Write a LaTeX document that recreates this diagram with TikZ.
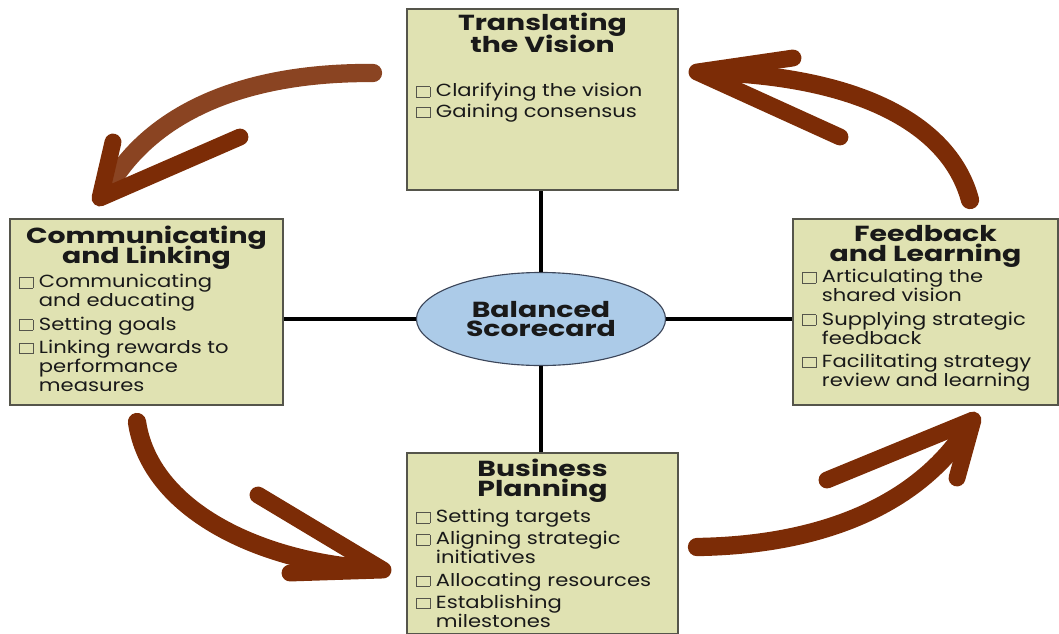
\documentclass[tikz,border=0pt]{standalone}
\usepackage{fontspec}
\setmainfont{Poppins}[FakeStretch=1.2]
\newfontfamily\headfont{Poppins}[FakeStretch=1.3]
\usepackage{tikz}
\usetikzlibrary{positioning,shapes.geometric}
\definecolor{panelfill}{RGB}{224,226,178}
\definecolor{panelline}{RGB}{85,85,75}
\definecolor{hubfill}{RGB}{172,203,232}
\definecolor{hubline}{RGB}{60,70,90}
\definecolor{rust}{RGB}{124,44,6}
\definecolor{lightrust}{RGB}{138,68,34}
\definecolor{ink}{RGB}{25,25,25}
\newcommand{\cb}{\textcolor{panelline}{\setlength{\fboxsep}{0pt}\setlength{\fboxrule}{0.5pt}\fbox{\rule{0pt}{0.56em}\hspace{0.72em}}}}
\newcommand{\tightlines}{\setlength{\lineskiplimit}{-20pt}}

\begin{document}
\begin{tikzpicture}[x=0.025cm, y=-0.025cm,
  panel/.style={draw=panelline, line width=1pt, fill=panelfill, inner sep=0pt},
  head/.style={font={\headfont\fontsize{15.5}{14.3}\selectfont\tightlines\bfseries}, text=ink, align=center, inner sep=0pt},
  items/.style={font={\fontsize{12.5}{13.5}\selectfont}, text=ink, inner sep=0pt, anchor=north west},
  hub/.style={ellipse, draw=hubline, line width=0.8pt, fill=hubfill, minimum width=6.225cm, minimum height=2.325cm,
    inner sep=0pt, font={\headfont\fontsize{15.5}{14}\selectfont\tightlines\bfseries}, text=ink, align=center},
  link/.style={line width=2.6pt, black},
  shaft/.style={line width=13pt, line cap=round, rust},
  barb/.style={line width=12pt, line cap=round, line join=round, rust}]
\useasboundingbox (0,0) rectangle (1059,633);

% the four panels
\node[panel, minimum width=6.775cm, minimum height=4.525cm] (tv) at (542.5,99.5) {};
\node[panel, minimum width=6.825cm, minimum height=4.65cm] (cl) at (146.5,312) {};
\node[panel, minimum width=6.625cm, minimum height=4.65cm] (fl) at (925.5,312) {};
\node[panel, minimum width=6.775cm, minimum height=4.525cm] (bp) at (542.5,543.5) {};

\node[head, below=3pt of tv.north] (tv-head) {Translating\\[1.5pt]the Vision};
\node[head, below=5.5pt of cl.north] (cl-head) {Communicating\\and Linking};
\node[head, below=4.5pt of fl.north] (fl-head) {Feedback\\and Learning};
\node[head, below=4.5pt of bp.north] (bp-head) {Business\\Planning};

\node[items] (tv-list) at (416,83) {\begin{tabular}{@{}l@{\hspace{4pt}}l@{}}
\cb & Clarifying the vision\\[1pt]
\cb & Gaining consensus
\end{tabular}};
\node[items] (cl-list) at (19,274) {\begin{tabular}{@{}l@{\hspace{4pt}}l@{}}
\cb & Communicating\\ & and educating\\[3pt]
\cb & Setting goals\\[3pt]
\cb & Linking rewards to\\ & performance\\ & measures
\end{tabular}};
\node[items] (fl-list) at (802,269) {\begin{tabular}{@{}l@{\hspace{4pt}}l@{}}
\cb & Articulating the\\ & shared vision\\[3pt]
\cb & Supplying strategic\\ & feedback\\[3pt]
\cb & Facilitating strategy\\ & review and learning
\end{tabular}};
\node[items] (bp-list) at (416,509) {\begin{tabular}{@{}l@{\hspace{4pt}}l@{}}
\cb & Setting targets\\[2.2pt]
\cb & Aligning strategic\\ & initiatives\\[2.2pt]
\cb & Allocating resources\\[2.2pt]
\cb & Establishing\\ & milestones
\end{tabular}};

% hub and spokes
\node[hub] (bsc) at (541,319) {Balanced\\Scorecard};
\draw[link] (bsc.north) -- (bsc.north |- tv.south);
\draw[link] (bsc.south) -- (bsc.south |- bp.north);
\draw[link] (bsc.west) -- (bsc.west -| cl.east);
\draw[link] (bsc.east) -- (bsc.east -| fl.west);

% swoosh arrows
\coordinate (t1) at (373,73);  \coordinate (h1) at (100,198);
\coordinate (t2) at (970,200); \coordinate (h2) at (697,72);
\coordinate (t3) at (137,422); \coordinate (h3) at (383,570);
\coordinate (t4) at (697,547); \coordinate (h4) at (973,420);
\draw[shaft, lightrust] (t1) .. controls (240,72) and (150,115) .. (108,188);
\draw[barb] (113,142) -- (h1) -- (240,137);
\draw[shaft] (t2) .. controls (950,125) and (860,76) .. (707,72);
\draw[barb] (793,58) -- (h2) -- (840,137);
\draw[shaft] (t3) .. controls (150,510) and (260,562) .. (373,569);
\draw[barb] (258,495) -- (h3) -- (290,573);
\draw[shaft] (t4) .. controls (830,545) and (920,500) .. (966,430);
\draw[barb] (827,480) -- (h4) -- (957,478);
\end{tikzpicture}
\end{document}
